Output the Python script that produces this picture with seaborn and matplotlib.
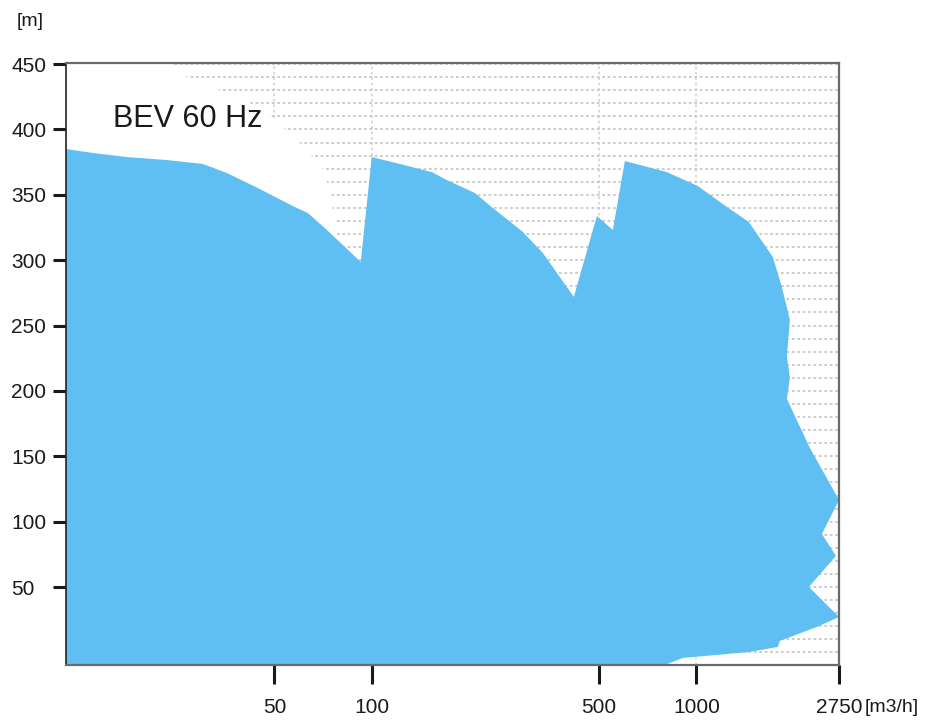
import matplotlib
matplotlib.use('Agg')
import matplotlib.pyplot as plt
from matplotlib import font_manager
from matplotlib.ticker import FixedLocator, MultipleLocator, NullLocator
import pandas as pd
import seaborn as sns

# operating range outline (Q in m3/h, H in m), clockwise from top-left
flow = [11.4, 13.8, 17.5, 23.3, 30.1, 35.7, 45.1, 57.0, 63.4, 72.6, 81.3, 92.3,
        99.8, 121.8, 152.8, 170.0, 207.4, 235.7, 291.6, 336.1, 418.8,
        493.1, 552.4, 601.5, 810.4, 1009.7, 1240.6, 1450, 1719, 1833,
        1940, 1899, 1940, 1899, 2236, 2750, 2435, 2690, 2220, 2750,
        2350, 1807, 1781, 1460, 1156, 908, 814, 814, 11.4]
head = [385.0, 382.0, 378.9, 376.6, 373.6, 366.7, 354.4, 341.4, 336.1, 323.1, 311.6, 298.6,
        378.9, 373.6, 367.4, 361.3, 351.4, 339.9, 321.6, 305.5, 271.9,
        333.8, 323.1, 375.8, 367.4, 356.7, 340.7, 329.2, 302.4, 279.5,
        254.3, 226.7, 209.9, 193.9, 156.4, 116.6, 90.6, 73.8, 50.1, 27.1,
        19.5, 8.8, 4.2, 0.4, -1.9, -4.2, -8.8, -12, -12]

# blank area in the upper left where the grid is not drawn
mask_flow = [11.4, 23.8, 26.5, 33.2, 42.0, 48.4, 53.8, 59.9, 65.2, 70.5, 72.6, 74.1, 75.7, 77.9, 81.3, 81.3, 11.4]
mask_head = [452, 452, 440.9, 430.9, 420.2, 410.3, 400.3, 389.6, 379.7, 369.8, 359.8, 349.9, 339.1, 319.3, 298.6, 290, 290]

x_ticks = [50, 100, 500, 1000, 2750]
y_ticks = [50, 100, 150, 200, 250, 300, 350, 400, 450]
title = 'BEV 60 Hz'

df = pd.DataFrame({'Q': flow, 'H': head})

sns.set_style('white')
installed = {f.name for f in font_manager.fontManager.ttflist}
narrow = 'Liberation Sans Narrow' if 'Liberation Sans Narrow' in installed else None
plt.rcParams['font.family'] = ['Liberation Sans', 'DejaVu Sans']

fig = plt.figure(figsize=(9.26, 7.21), dpi=100)
ax = fig.add_axes([0.0713, 0.0777, 0.8348, 0.8349])

ax.fill(df['Q'], df['H'], color='#60BFF2', lw=0, zorder=1)
ax.fill(mask_flow, mask_head, color='white', lw=0, zorder=0.8)

ax.set_xscale('log')
ax.set_xlim(11.4, 2750)
ax.set_ylim(-9.6, 450.8)

ax.xaxis.set_major_locator(FixedLocator(x_ticks))
ax.xaxis.set_minor_locator(NullLocator())
ax.set_xticklabels([str(v) for v in x_ticks])
ax.set_yticks(y_ticks)
ax.set_yticklabels([str(v) for v in y_ticks])
ax.yaxis.set_minor_locator(MultipleLocator(10))

ax.set_axisbelow(True)
ax.grid(True, which='both', axis='y', color='#c8c8c8', lw=1.3, ls=(0, (1.5, 1.5)))
ax.grid(True, which='major', axis='x', color='#d8d8d8', lw=1.3, ls=(0, (1.5, 1.5)))

ax.tick_params(axis='y', which='major', left=True, direction='out', length=9.4, width=2.2,
               color='#1a1a1a', pad=30, labelsize=15, labelcolor='#1a1a1a')
ax.tick_params(axis='y', which='minor', left=False, length=0)
xfont = 18 if narrow else 15
ax.tick_params(axis='x', which='major', bottom=True, direction='out', length=13.5, width=2.2,
               color='#1a1a1a', pad=10, labelsize=xfont, labelcolor='#1a1a1a')
plt.setp(ax.get_yticklabels(), ha='left')
if narrow:
    plt.setp(ax.get_xticklabels(), family=narrow)

ax.spines['left'].set_color('#222222')
ax.spines['left'].set_linewidth(1.2)
for side in ['top', 'right', 'bottom']:
    ax.spines[side].set_color('#6a6a6a')
    ax.spines[side].set_linewidth(1.6)

ax.text(0.061, 0.894, title, transform=ax.transAxes, ha='left', va='baseline',
        fontsize=25 if narrow else 22, color='#1a1a1a',
        family=narrow if narrow else 'Liberation Sans')

fig.text(30 / 926, 1 - 22 / 721, '[m]', ha='center', va='center', fontsize=14, color='#1a1a1a')
fig.text(892 / 926, 1 - 707 / 721, '[m3/h]', ha='center', va='center', fontsize=14, color='#1a1a1a')

fig.savefig('out.png', dpi=100)
plt.close(fig)
